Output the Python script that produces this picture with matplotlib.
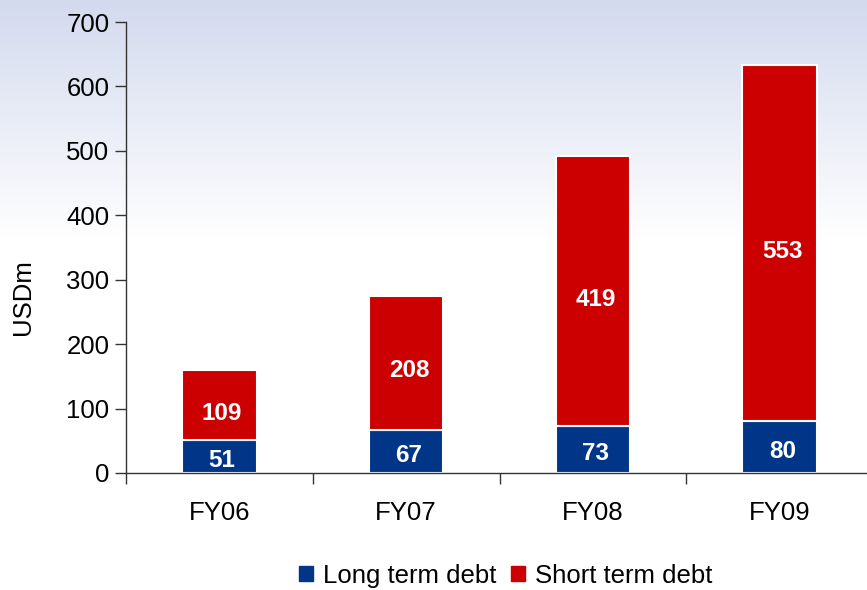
import matplotlib.pyplot as plt
import numpy as np
from matplotlib.patches import Patch

years = ["FY06", "FY07", "FY08", "FY09"]
long_term = [51, 67, 73, 80]
short_term = [109, 208, 419, 553]

plt.rcParams['font.family'] = ['Liberation Sans', 'DejaVu Sans']

navy = "#003587"
red = "#CC0000"

fig = plt.figure(figsize=(8.67, 5.9), dpi=100)

# background gradient (light blue top fading to white)
bg = fig.add_axes([0, 0, 1, 1], zorder=-10)
bg.axis('off')
grad = np.ones((590, 1, 3))
top = np.array([211, 218, 238]) / 255
for i in range(590):
    t = min(i / 240.0, 1.0)
    grad[i, 0] = top * (1 - t) + np.array([1, 1, 1]) * t
bg.imshow(grad, aspect='auto', extent=[0, 1, 0, 1])

ax = fig.add_axes([126 / 867, 117 / 590, 747 / 867, 451 / 590])
ax.patch.set_alpha(0)

x = np.arange(len(years))
w = 0.4
ax.bar(x, long_term, w, color=navy, edgecolor='white', linewidth=1.5, label="Long term debt")
ax.bar(x, short_term, w, bottom=long_term, color=red, edgecolor='white', linewidth=1.5,
       label="Short term debt")

for i in range(len(years)):
    ax.annotate(str(long_term[i]), (x[i], long_term[i] / 2), xytext=(2, -1),
                textcoords='offset points', ha='center', va='center_baseline',
                color='white', fontsize=17.5, fontweight='bold')
    ax.annotate(str(short_term[i]), (x[i], long_term[i] + short_term[i] / 2), xytext=(2, -4),
                textcoords='offset points', ha='center', va='center_baseline',
                color='white', fontsize=17.5, fontweight='bold')

ax.set_xlim(-0.5, 3.5)
ax.set_ylim(0, 700)
ax.set_yticks(range(0, 701, 100))
ax.tick_params(axis='y', labelsize=18.5, length=8, width=1, color='#333333', pad=4)

ax.set_xticks(x)
ax.set_xticklabels(years, fontsize=18.5)
ax.tick_params(axis='x', length=0, pad=20)
ax.set_xticks(np.arange(-0.5, 4, 1), minor=True)
ax.tick_params(axis='x', which='minor', length=8, width=1, color='#333333')

for s in ['top', 'right']:
    ax.spines[s].set_visible(False)
for s in ['left', 'bottom']:
    ax.spines[s].set_color('#333333')
    ax.spines[s].set_linewidth(1)

ax.set_ylabel("USDm", fontsize=18.5)
ax.yaxis.set_label_coords(-0.122, 0.39)

handles = [Patch(color=navy), Patch(color=red)]
fig.legend(handles, ["Long term debt", "Short term debt"], loc='center',
           bbox_to_anchor=(0.583, 0.024), ncol=2, frameon=False, fontsize=18.5,
           handlelength=0.55, handleheight=0.55, handletextpad=0.4, columnspacing=0.55)

plt.savefig("out.png", dpi=100)
